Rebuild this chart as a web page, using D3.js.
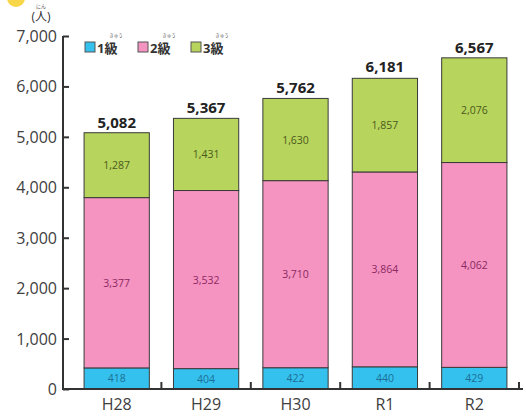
<!DOCTYPE html>
<html><head><meta charset="utf-8">
<script src="https://cdn.jsdelivr.net/npm/d3@7"></script>
<style>body{margin:0;background:#fff;}svg{display:block;font-family:"Open Sans","Noto Sans CJK JP",sans-serif;}</style>
</head><body>
<svg id="c" width="526" height="417"></svg>
<script>
const categories = ["H28","H29","H30","R1","R2"];
const grade1 = [418,404,422,440,429];
const grade2 = [3377,3532,3710,3864,4062];
const grade3 = [1287,1431,1630,1857,2076];
const totals = [5082,5367,5762,6181,6567];
const seriesNames = ["1級","2級","3級"];
const yTicks = [0,1000,2000,3000,4000,5000,6000,7000];

const colors = ["#35c1ee","#f593c1","#b7d45c"];
const labelColors = ["#1c6f96","#8c2a62","#4b5a1c"];

const svg = d3.select("#c");
const x = d3.scaleBand().domain(categories).range([72,519]).paddingInner(0.27).paddingOuter(0.135);
const y = d3.scaleLinear().domain([0,7000]).range([389,36]);
const fmt = d3.format(",");

// decorative header remnant
svg.append("circle").attr("cx",16).attr("cy",-2).attr("r",9).attr("fill","#f7d64a");

const rows = categories.map((c,i)=>({cat:c, "1級":grade1[i], "2級":grade2[i], "3級":grade3[i]}));
const stack = d3.stack().keys(seriesNames)(rows);

stack.forEach((s,si)=>{
  const g = svg.append("g");
  g.selectAll("rect").data(s).join("rect")
    .attr("x",d=>x(d.data.cat)).attr("width",x.bandwidth())
    .attr("y",d=>y(d[1])).attr("height",d=>y(d[0])-y(d[1]))
    .attr("fill",colors[si]).attr("stroke","#3a3a3a").attr("stroke-width",1);
  g.selectAll("text").data(s).join("text")
    .attr("x",d=>x(d.data.cat)+x.bandwidth()/2)
    .attr("y",d=>(y(d[0])+y(d[1]))/2+4)
    .attr("text-anchor","middle").attr("font-size",10.5)
    .attr("fill",labelColors[si])
    .text(d=>fmt(d[1]-d[0]));
});

// totals
svg.append("g").selectAll("text").data(categories).join("text")
  .attr("x",c=>x(c)+x.bandwidth()/2)
  .attr("y",(c,i)=>y(totals[i])-5)
  .attr("text-anchor","middle").attr("font-size",15).attr("font-weight","bold").attr("fill","#222")
  .text((c,i)=>fmt(totals[i]));

// y axis
const ya = svg.append("g").attr("transform","translate(63,0)")
  .call(d3.axisRight(y).tickValues(yTicks).tickSize(6).tickFormat(""));
ya.select(".domain").attr("stroke","#333").attr("stroke-width",2).attr("d","M0,36V389");
ya.selectAll(".tick line").attr("stroke","#333").attr("stroke-width",2);
svg.append("g").selectAll("text").data(yTicks).join("text")
  .attr("x",57).attr("y",d=>y(d)+6).attr("text-anchor","end")
  .attr("font-size",16).attr("fill","#404040").text(d=>fmt(d));

// x axis
svg.append("line").attr("x1",62).attr("x2",523).attr("y1",389).attr("y2",389).attr("stroke","#333").attr("stroke-width",2);
const bounds = categories.map(c=>x(c)+x.bandwidth()+x.step()*x.paddingInner()/2);
svg.append("g").selectAll("line").data(bounds).join("line")
  .attr("x1",d=>d).attr("x2",d=>d).attr("y1",389).attr("y2",382).attr("stroke","#333").attr("stroke-width",2);
svg.append("g").selectAll("text").data(categories).join("text")
  .attr("x",c=>x(c)+x.bandwidth()/2).attr("y",410).attr("text-anchor","middle")
  .attr("font-size",16).attr("fill","#404040").text(c=>c);

// unit
svg.append("text").attr("x",41).attr("y",21).attr("text-anchor","middle").attr("font-size",12).attr("fill","#333").text("(人)");
svg.append("text").attr("x",41).attr("y",8).attr("text-anchor","middle").attr("font-size",5).attr("fill","#555").text("にん");

// legend
const lg = svg.append("g");
seriesNames.forEach((n,i)=>{
  const lx = 85 + i*53;
  lg.append("rect").attr("x",lx).attr("y",42).attr("width",10).attr("height",10)
    .attr("fill",colors[i]).attr("stroke","#555").attr("stroke-width",1);
  lg.append("text").attr("x",lx+12).attr("y",53).attr("font-size",13).attr("font-weight","bold").attr("fill","#333").text(n);
  lg.append("text").attr("x",lx+31).attr("y",37).attr("text-anchor","middle").attr("font-size",4.5).attr("fill","#555").text("きゅう");
});
</script>
</body></html>
